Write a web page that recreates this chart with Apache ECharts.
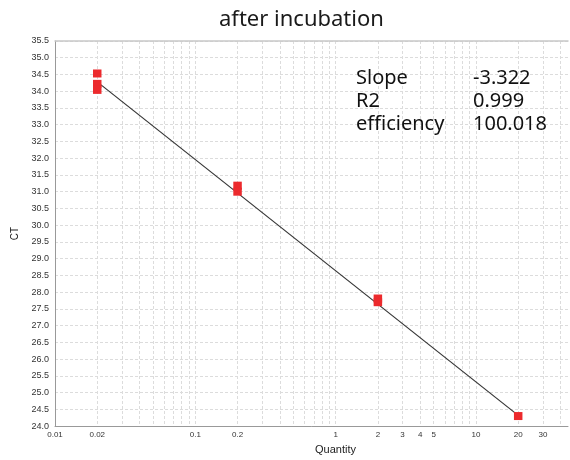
<!DOCTYPE html>
<html>
<head>
<meta charset="utf-8">
<script src="https://cdn.jsdelivr.net/npm/echarts@6/dist/echarts.min.js"></script>
<style>
    html, body { margin: 0; padding: 0; background: #fff; }
    #chart { width: 570px; height: 460px; }
</style>
</head>
<body>
<div id="chart"></div>
<script>
    // measured points (quantity, Ct)
    var quantity = [0.02, 0.02, 0.02, 0.2, 0.2, 2, 2, 20];
    var ct = [34.53, 34.22, 34.04, 31.18, 31.0, 27.81, 27.7, 24.3];
    // standard curve end points
    var fitQuantity = [0.02, 20];
    var fitCt = [34.28, 24.32];
    // x axis labels and grid lines (log scale)
    var xLabels = ['0.01', '0.02', '0.1', '0.2', '1', '2', '3', '4', '5', '10', '20', '30'];
    var xGrid = [0.01, 0.02, 0.03, 0.04, 0.05, 0.06, 0.07, 0.08, 0.09,
        0.1, 0.2, 0.3, 0.4, 0.5, 0.6, 0.7, 0.8, 0.9,
        1, 2, 3, 4, 5, 6, 7, 8, 9, 10, 20, 30, 40];
    var statNames = ['Slope', 'R2', 'efficiency'];
    var statValues = ['-3.322', '0.999', '100.018'];

    var lg = function (v) { return Math.log10(v); };
    var points = quantity.map(function (q, i) { return [lg(q), ct[i]]; });
    var fit = fitQuantity.map(function (q, i) { return [lg(q), fitCt[i]]; });
    var labelPos = xLabels.map(function (s) { return lg(parseFloat(s)); });

    var texts = [];
    statNames.forEach(function (n, i) {
        texts.push({ type: 'text', left: 356, top: 68 + i * 23, z: 100,
            style: { text: n, font: '20px "Noto Sans"', fill: '#111' } });
        texts.push({ type: 'text', left: 473, top: 68 + i * 23, z: 100,
            style: { text: statValues[i], font: '20px "Noto Sans"', fill: '#111' } });
    });

    var myChart = echarts.init(document.getElementById('chart'));
    var option = {
        animation: false,
        title: {
            text: 'after incubation',
            left: 214,
            top: 4,
            textStyle: { fontFamily: 'Noto Sans', fontSize: 22, fontWeight: 'normal', color: '#1a1a1a' }
        },
        grid: { left: 55, right: 2, top: 41, bottom: 27 },
        xAxis: [
            {
                type: 'value',
                min: -2,
                max: 1.656,
                name: 'Quantity',
                nameLocation: 'middle',
                nameGap: 16,
                nameTextStyle: { fontFamily: 'Liberation Sans', fontSize: 11, color: '#222', padding: [0, 0, 0, 48] },
                axisLine: { lineStyle: { color: '#999' } },
                axisTick: { show: false, customValues: xGrid.map(lg) },
                axisLabel: {
                    customValues: labelPos,
                    fontFamily: 'Liberation Sans', fontSize: 8, color: '#333', margin: 5,
                    formatter: function (v) {
                        var best = 0;
                        labelPos.forEach(function (p, i) {
                            if (Math.abs(p - v) < Math.abs(labelPos[best] - v)) best = i;
                        });
                        return xLabels[best];
                    }
                },
                splitLine: { show: true, lineStyle: { color: '#dcdcdc', type: [3, 2] } }
            },
            {
                type: 'value',
                position: 'top',
                min: -2,
                max: 1.656,
                axisLine: { show: true, onZero: false, lineStyle: { color: '#c8c8c8', width: 1.5 } },
                axisTick: { show: false },
                axisLabel: { show: false },
                splitLine: { show: false }
            }
        ],
        yAxis: {
            type: 'value',
            min: 24,
            max: 35.5,
            interval: 0.5,
            name: 'CT',
            nameLocation: 'middle',
            nameGap: 27,
            nameTextStyle: { fontFamily: 'Liberation Sans', fontSize: 10, color: '#222' },
            axisLine: { show: true, onZero: false, lineStyle: { color: '#999' } },
            axisTick: { show: false },
            axisLabel: {
                fontFamily: 'Liberation Sans', fontSize: 9, color: '#333', margin: 6,
                formatter: function (v) { return v.toFixed(1); }
            },
            splitLine: { show: true, lineStyle: { color: '#dcdcdc', type: [3, 2] } }
        },
        graphic: texts,
        series: [
            {
                name: 'fit',
                type: 'line',
                data: fit,
                symbol: 'none',
                lineStyle: { color: '#333', width: 1.2 },
                z: 2
            },
            {
                name: 'Ct',
                type: 'scatter',
                data: points,
                symbol: 'rect',
                symbolSize: [8.5, 8],
                itemStyle: { color: '#ec2a2d', opacity: 1 },
                z: 3
            }
        ]
    };
    myChart.setOption(option);
</script>
</body>
</html>
